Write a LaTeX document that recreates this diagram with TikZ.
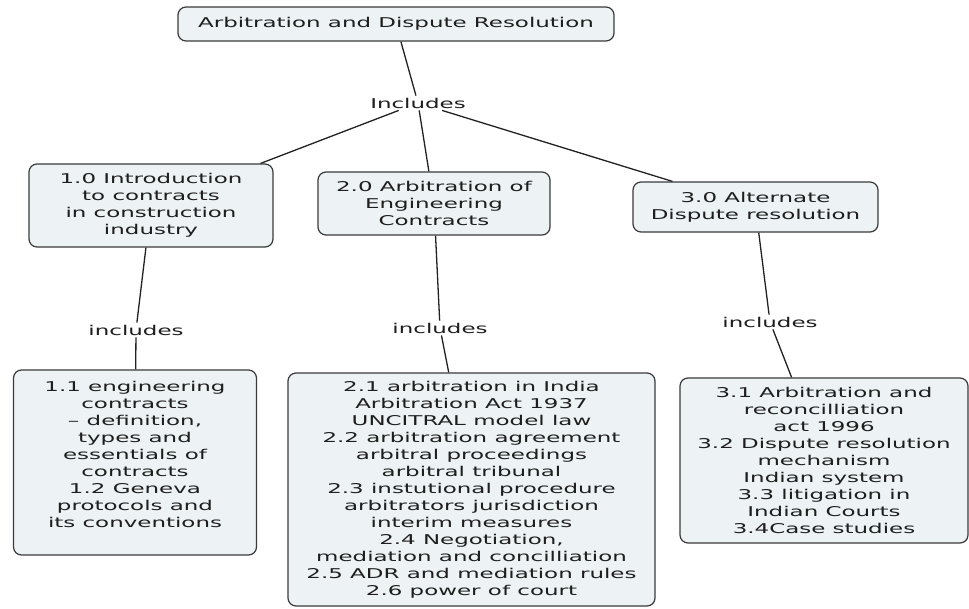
\documentclass[tikz,border=0pt]{standalone}
\usepackage{fontspec}
\setmainfont{DejaVu Sans}[FakeStretch=1.7]
\definecolor{boxfill}{HTML}{EDF2F5}
\definecolor{boxline}{HTML}{3A3A3A}
\definecolor{txt}{HTML}{1E1E1E}
\definecolor{linec}{HTML}{222222}
\begin{document}
\begin{tikzpicture}[x=1pt,y=-1pt,
  box/.style={draw=boxline, fill=boxfill, rounded corners=8pt, line width=1.2pt,
    inner sep=0pt, align=center, text=txt, font=\fontsize{13.5}{17}\selectfont},
  lbl/.style={inner sep=2pt, text=txt, font=\fontsize{13.5}{17}\selectfont},
  plain/.style={inner sep=0pt, align=center, text=txt, font=\fontsize{13.5}{17}\selectfont},
  conn/.style={draw=linec, line width=1.3pt}]
\useasboundingbox[fill=white] (0,0) rectangle (969,608);

% top
\node[box, minimum width=436pt, minimum height=34pt] (root) at (396,24) {Arbitration and Dispute Resolution};
\node[lbl] (inc) at (418,103) {Includes};

% second row
\node[box, minimum width=244pt, minimum height=83pt] (c1) at (151,205.5)
  {1.0 Introduction\\to contracts\\in construction\\industry};
\node[box, minimum width=232pt, minimum height=63pt] (c2) at (434,203.5)
  {2.0 Arbitration of\\Engineering\\Contracts};
\node[box, minimum width=245pt, minimum height=50pt] (c3) at (755.5,207)
  {3.0 Alternate\\Dispute resolution};

% labels
\node[lbl] (l1) at (136,330) {includes};
\node[lbl] (l2) at (440,328) {includes};
\node[lbl] (l3) at (770,322) {includes};

% bottom row
\node[box, minimum width=243pt, minimum height=185pt] (b1) at (135,462.5) {};
\node[plain] (b1t) at (135,454.5)
  {1.1 engineering\\contracts\\-- definition,\\types and\\essentials of\\contracts\\1.2 Geneva\\protocols and\\its conventions};
\node[box, minimum width=367pt, minimum height=233pt] (b2) at (471.5,489.5)
  {2.1 arbitration in India\\Arbitration Act 1937\\UNCITRAL model law\\2.2 arbitration agreement\\arbitral proceedings\\arbitral tribunal\\2.3 instutional procedure\\arbitrators jurisdiction\\interim measures\\2.4 Negotiation,\\mediation and concilliation\\2.5 ADR and mediation rules\\2.6 power of court};
\node[box, minimum width=288pt, minimum height=165pt] (b3) at (824,460.5)
  {3.1 Arbitration and\\reconcilliation\\act 1996\\3.2 Dispute resolution\\mechanism\\Indian system\\3.3 litigation in\\Indian Courts\\3.4Case studies};

% connectors
\draw[conn] (root) -- (inc);
\draw[conn] (inc) -- (c1);
\draw[conn] (inc) -- (c2);
\draw[conn] (inc) -- (c3);
\draw[conn] (c1) -- (l1);
\draw[conn] (l1) -- (b1);
\draw[conn] (c2) -- (l2);
\draw[conn] (l2) -- (b2);
\draw[conn] (c3) -- (l3);
\draw[conn] (l3) -- (b3);
\end{tikzpicture}
\end{document}
